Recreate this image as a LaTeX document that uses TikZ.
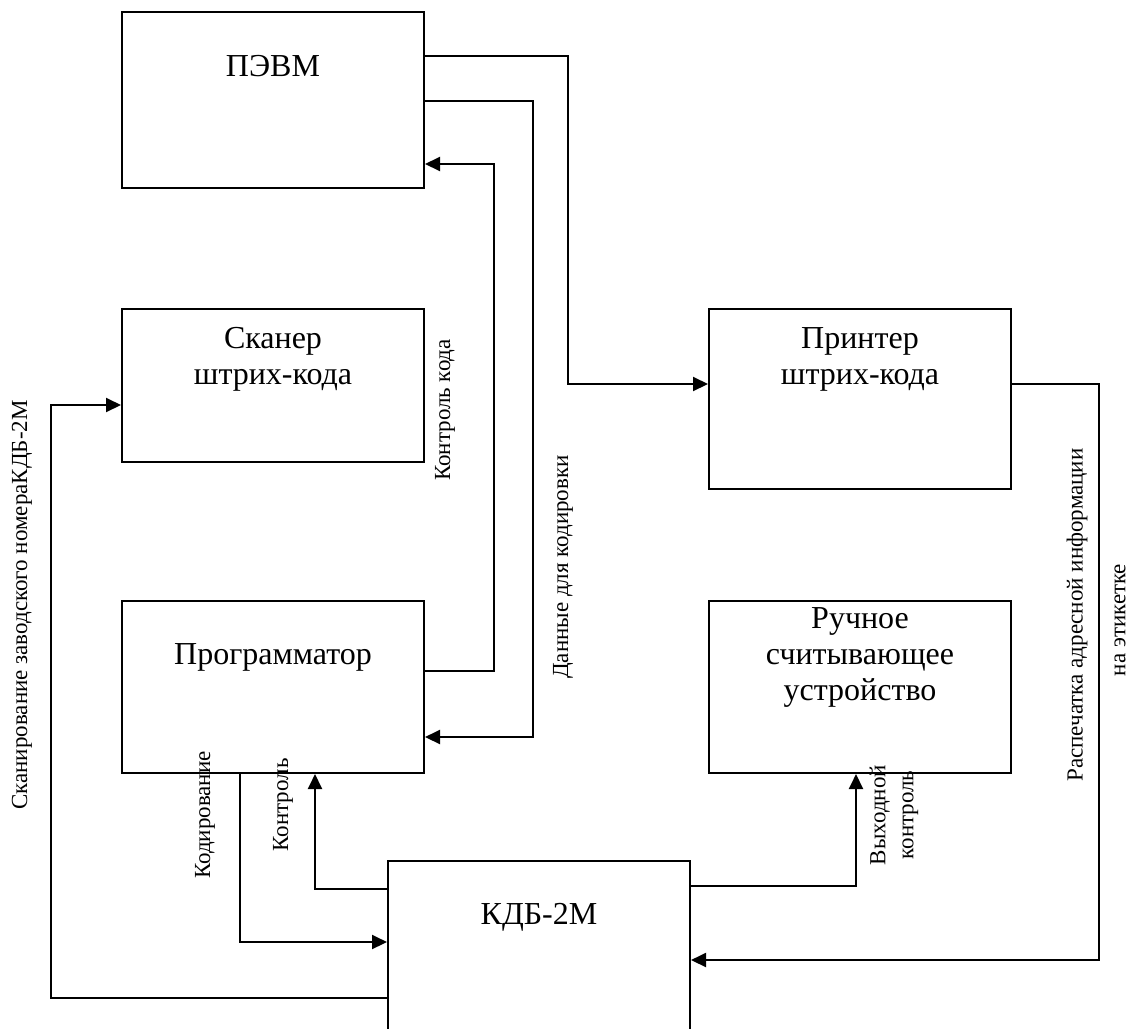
\documentclass[tikz,border=0pt]{standalone}
\usepackage{fontspec}
\setmainfont{Liberation Serif}
\usetikzlibrary{positioning, calc, arrows.meta}

\tikzset{
	blok/.style = {draw, rectangle, line width=1pt, minimum width=151pt, inner sep=0pt},
	bloktext/.style = {align=center, font=\fontsize{16}{18}\selectfont, inner sep=0pt},
	svyaz/.style = {line width=1pt, -{Triangle[length=7.5pt, width=7pt]}},
	podpis/.style = {rotate=90, align=center, font=\fontsize{11.5}{14}\selectfont, inner sep=0pt}
}

\begin{document}
\begin{tikzpicture}[x=0.5pt, y=-0.5pt]
	\useasboundingbox (0,0) rectangle (1138,1028);

	\node[blok, minimum height=88pt] (pevm) at (273,100) {};
	\node[blok, minimum height=76.5pt, below=59.5pt of pevm] (skaner) {};
	\node[blok, minimum height=86pt, below=68.5pt of skaner] (prog) {};
	\node[blok, minimum height=90pt, right=141.5pt of skaner.north east, anchor=north west] (printer) {};
	\node[blok, minimum height=86pt, right=141.5pt of prog.north east, anchor=north west] (ruchn) {};
	\node[blok, minimum height=85.5pt, below=43pt of prog.south west, anchor=north west, xshift=133pt] (kdb) {};

	% texts inside the blocks
	\node[bloktext] (pevmtxt) at ($(pevm.north)+(0,55)$) {ПЭВМ};
	\node[bloktext] (skanertxt) at ($(skaner.north)+(0,51)$) {Сканер\\штрих-кода};
	\node[bloktext] (progtxt) at ($(prog.north)+(0,57)$) {Программатор};
	\node[bloktext] (printertxt) at ($(printer.north)+(0,51)$) {Принтер\\штрих-кода};
	\node[bloktext] (ruchntxt) at ($(ruchn.north)+(0,57)$) {Ручное\\считывающее\\устройство};
	\node[bloktext] (kdbtxt) at ($(kdb.north)+(0,57)$) {КДБ-2М};

	% connections
	\draw[svyaz] ($(pevm.north east)+(0,45)$) -- ++(143,0) |- ($(printer.north west)+(0,76)$);
	\draw[svyaz] ($(pevm.north east)+(0,90)$) -- ++(108,0) |- ($(prog.north east)+(0,137)$);
	\draw[svyaz] ($(prog.north east)+(0,71)$) -- ++(69,0) |- ($(pevm.north east)+(0,153)$);
	\draw[svyaz] ($(prog.south west)+(119,0)$) |- ($(kdb.north west)+(0,82)$);
	\draw[svyaz] ($(kdb.north west)+(0,29)$) -| ($(prog.south west)+(194,0)$);
	\draw[svyaz] ($(kdb.north east)+(0,26)$) -| ($(ruchn.south west)+(148,0)$);
	\draw[svyaz] ($(printer.north east)+(0,76)$) -- ++(87,0) |- ($(kdb.north east)+(0,100)$);
	\draw[svyaz] ($(kdb.north west)+(0,138)$) -- ++(-336,0) |- ($(skaner.north west)+(0,97)$);

	% labels
	\node[podpis] (skanlbl) at (22,605) {Сканирование заводского номераКДБ-2М};
	\node[podpis] (kontrkodlbl) at (445,410) {Контроль кода};
	\node[podpis] (dannyelbl) at (563,567) {Данные для кодировки};
	\node[podpis] (kodirlbl) at (205,815) {Кодирование};
	\node[podpis] (kontrlbl) at (283,805) {Контроль};
	\node[podpis] (vyhodlbl) at (894,815) {Выходной\\контроль};
	\node[podpis] (raspechlbl) at (1077,615) {Распечатка адресной информации};
	\node[podpis] (etiketlbl) at (1120,620) {на этикетке};
\end{tikzpicture}
\end{document}
